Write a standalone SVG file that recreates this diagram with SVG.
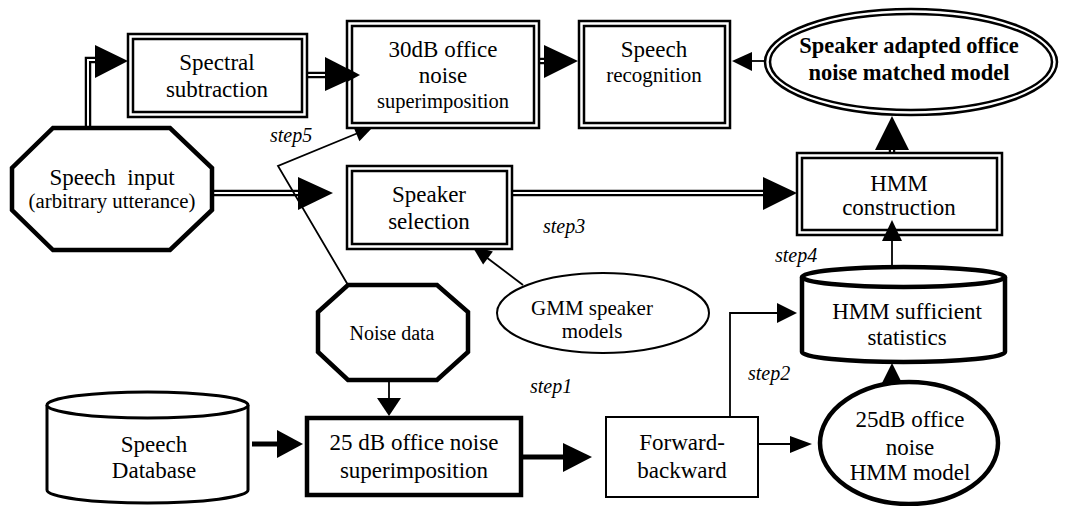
<svg xmlns="http://www.w3.org/2000/svg" width="1069" height="506" viewBox="0 0 1069 506" font-family="'Liberation Serif', 'Times New Roman', Tinos, 'DejaVu Serif', serif">
<style>
text{font-family:'Liberation Serif','Times New Roman',Tinos,'DejaVu Serif',serif}
.t{font-size:23px;text-anchor:middle;fill:#000}
.sm{font-size:21px}
.b{font-weight:bold;font-size:22.5px}
.st{font-style:italic;font-size:20px;fill:#000}
.o{fill:#fff;stroke:#000;stroke-width:2.5}
.i{fill:none;stroke:#000;stroke-width:2.5}
.k{fill:#fff;stroke:#000;stroke-width:4.5}
.n{fill:#fff;stroke:#000;stroke-width:2}
.db{fill:none;stroke:#000;stroke-width:6.5}
.dw{fill:none;stroke:#fff;stroke-width:2}
.ln{fill:none;stroke:#000;stroke-width:1.8}
.th{fill:none;stroke:#000;stroke-width:5}
.ah{fill:#000;stroke:none}
</style>
<rect width="1069" height="506" fill="#fff"/>

<g id="connectors">
  <polyline class="db" points="88,128 88,60 97,60"/>
  <polyline class="dw" points="88,128 88,60 97,60"/>
  <polygon class="ah" points="95,45 128,61 95,78"/>

  <line class="db" x1="307" y1="75" x2="327" y2="75"/>
  <line class="dw" x1="307" y1="75" x2="327" y2="75"/>
  <polygon class="ah" points="325,57 360,75 325,91"/>

  <line class="db" x1="539" y1="61" x2="546" y2="61"/>
  <line class="dw" x1="539" y1="61" x2="546" y2="61"/>
  <polygon class="ah" points="544,45 578,61 544,78"/>

  <line class="db" x1="212" y1="193" x2="300" y2="193"/>
  <line class="dw" x1="212" y1="193" x2="300" y2="193"/>
  <polygon class="ah" points="298,177 333,193 298,210"/>

  <line class="db" x1="512" y1="193" x2="765" y2="193"/>
  <line class="dw" x1="512" y1="193" x2="765" y2="193"/>
  <polygon class="ah" points="763,177 797,193 763,210"/>

  <line class="db" x1="892" y1="155" x2="892" y2="148"/>
  <line class="dw" x1="892" y1="155" x2="892" y2="148"/>
  <polygon class="ah" points="875,150 892,116 909,150"/>

  <line class="ln" x1="765" y1="61" x2="750" y2="61"/>
  <polygon class="ah" points="752,52 732,61 752,71"/>

  <polyline class="ln" points="348,285 278,166 358,133"/>
  <polygon class="ah" points="373,127 359.4,141.2 353.3,126.4"/>

  <line class="ln" x1="523" y1="285" x2="486" y2="257"/>
  <polygon class="ah" points="472,246 492.9,251.6 483.1,264.4"/>

  <line class="ln" x1="389" y1="380" x2="389" y2="400"/>
  <polygon class="ah" points="377,398 389,416 401,398"/>

  <line class="ln" x1="758" y1="444" x2="792" y2="444"/>
  <polygon class="ah" points="790,436 812,444 790,453"/>

  <polyline class="ln" points="730,417 730,313 779,313"/>
  <polygon class="ah" points="777,303 797,313 777,323"/>

  <line class="ln" x1="892" y1="267" x2="892" y2="238"/>

  <line class="th" x1="252" y1="444" x2="279" y2="444"/>
  <polygon class="ah" points="277,430 303,444 277,458"/>

  <line class="th" x1="523" y1="457" x2="565" y2="457"/>
  <polygon class="ah" points="563,443 592,457 563,472"/>
</g>

<g id="spectral-subtraction">
  <rect class="o" x="128" y="34" width="179" height="83"/>
  <rect class="i" x="133" y="39" width="169" height="73"/>
  <text class="t" x="217" y="70">Spectral</text>
  <text class="t" x="217" y="97">subtraction</text>
</g>

<g id="noise-superimposition-30">
  <rect class="o" x="347" y="21" width="192" height="107"/>
  <rect class="i" x="352" y="26" width="182" height="97"/>
  <text class="t" x="443" y="57">30dB office</text>
  <text class="t" x="443" y="83">noise</text>
  <text class="t" x="443" y="108" style="font-size:20.5px">superimposition</text>
  <polygon class="ah" points="347,68 360,75 347,82"/>
</g>

<g id="speech-recognition">
  <rect class="o" x="579" y="21" width="151" height="107"/>
  <rect class="i" x="584" y="26" width="141" height="97"/>
  <text class="t" x="654" y="57">Speech</text>
  <text class="t sm" x="654" y="82">recognition</text>
</g>

<g id="speaker-adapted-model">
  <ellipse class="o" cx="911" cy="62" rx="146" ry="53"/>
  <ellipse class="i" cx="911" cy="62" rx="141" ry="48"/>
  <text class="t b" x="909" y="53">Speaker adapted office</text>
  <text class="t b" x="909" y="80">noise matched model</text>
</g>

<g id="speech-input">
  <polygon class="k" points="53,128 170,128 212,168 212,210 170,250 53,250 12,210 12,168"/>
  <text class="t" x="112" y="185" xml:space="preserve">Speech  input</text>
  <text class="t" x="112" y="208" style="font-size:20.8px">(arbitrary utterance)</text>
</g>

<g id="speaker-selection">
  <rect class="o" x="347" y="166" width="165" height="83"/>
  <rect class="i" x="352" y="171" width="155" height="73"/>
  <text class="t" x="429" y="202">Speaker</text>
  <text class="t" x="429" y="229">selection</text>
</g>

<g id="hmm-construction">
  <rect class="o" x="797" y="153" width="205" height="82"/>
  <rect class="i" x="802" y="158" width="195" height="72"/>
  <text class="t" x="899" y="191">HMM</text>
  <text class="t" x="899" y="215">construction</text>
  <polygon class="ah" points="882,241 892,220 902,241"/>
</g>

<g id="gmm-speaker-models">
  <ellipse class="n" cx="603" cy="313" rx="106" ry="40"/>
  <text class="t sm" x="592" y="315">GMM speaker</text>
  <text class="t sm" x="592" y="338">models</text>
</g>

<g id="noise-data">
  <polygon class="k" points="348,285 437,285 468,312 468,352 437,380 348,380 318,352 318,312"/>
  <text class="t" x="392" y="340" style="font-size:20px">Noise data</text>
</g>

<g id="speech-database">
  <path class="n" style="stroke-width:3" d="M47,405 L47,490 A100.5,13 0 0 0 248,490 L248,405"/>
  <ellipse class="n" style="stroke-width:3" cx="147.5" cy="405" rx="100.5" ry="13"/>
  <text class="t" x="154" y="452">Speech</text>
  <text class="t" x="154" y="478">Database</text>
</g>

<g id="noise-superimposition-25">
  <rect class="k" x="307" y="418" width="214" height="77"/>
  <text class="t" x="414" y="450">25 dB office noise</text>
  <text class="t" x="414" y="478">superimposition</text>
</g>

<g id="forward-backward">
  <rect class="n" x="606" y="417" width="152" height="80"/>
  <text class="t" x="682" y="450">Forward-</text>
  <text class="t" x="682" y="478">backward</text>
</g>

<g id="hmm-sufficient-statistics">
  <path class="k" d="M802,277 L802,352 A101.5,10 0 0 0 1005,352 L1005,277"/>
  <ellipse class="k" cx="903.5" cy="277" rx="101.5" ry="10"/>
  <text class="t" x="907" y="319">HMM sufficient</text>
  <text class="t" x="907" y="345">statistics</text>
</g>

<g id="hmm-model-25">
  <ellipse class="k" cx="909" cy="443" rx="89" ry="61"/>
  <text class="t" x="910" y="427">25dB office</text>
  <text class="t" x="910" y="455">noise</text>
  <text class="t" x="910" y="480">HMM model</text>
  <polygon class="ah" points="882,383 892,363 902,383"/>
</g>

<g id="step-labels">
  <text class="st" x="270" y="142">step5</text>
  <text class="st" x="543" y="233">step3</text>
  <text class="st" x="775" y="262">step4</text>
  <text class="st" x="530" y="393">step1</text>
  <text class="st" x="748" y="380">step2</text>
</g>
</svg>
